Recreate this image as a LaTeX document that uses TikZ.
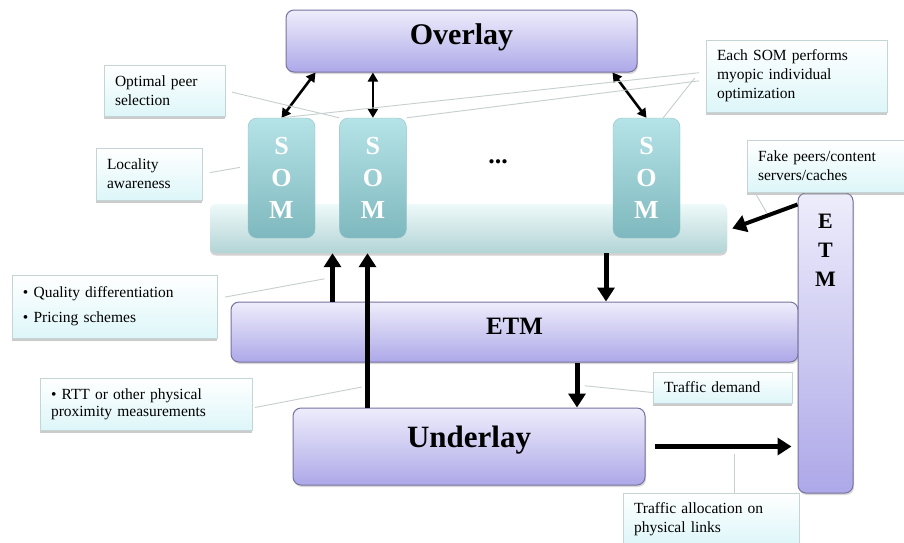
\documentclass[tikz,border=0pt]{standalone}
\usepackage{fontspec}
\setmainfont{Liberation Serif}
\usetikzlibrary{positioning,shadows,arrows.meta}
\definecolor{layertop}{HTML}{EEEDFB}
\definecolor{layerbot}{HTML}{ADA8E8}
\definecolor{layerline}{HTML}{77739F}
\definecolor{somtop}{HTML}{B5E3E7}
\definecolor{sombot}{HTML}{7EB8BE}
\definecolor{somline}{HTML}{8FC3C7}
\definecolor{plattop}{HTML}{EEF9F9}
\definecolor{platbot}{HTML}{B3D4D6}
\definecolor{tipbot}{HTML}{DDF6F9}
\definecolor{tipline}{HTML}{C5D5D6}
\definecolor{leadgray}{HTML}{C6CECE}

\begin{document}
\begin{tikzpicture}[x=1pt,y=-1pt]
\tikzset{layer/.style={draw=layerline, line width=1pt, rounded corners=8pt, top color=layertop, bottom color=layerbot,
          drop shadow={shadow xshift=1pt, shadow yshift=-2pt, fill=black!30}},
  platform/.style={rounded corners=6pt, top color=plattop, bottom color=platbot,
          drop shadow={shadow xshift=0pt, shadow yshift=-2.5pt, fill=black!35}},
  som/.style={draw=somline, rounded corners=9pt, top color=somtop, bottom color=sombot, text=white,
          font=\bfseries\fontsize{26}{32}\selectfont, align=center, minimum width=67pt, minimum height=120pt},
  tipbox/.style={draw=tipline, line width=0.4pt, top color=white, bottom color=tipbot, align=left, inner xsep=11pt,
          font=\fontsize{15.5}{19}\selectfont, drop shadow={shadow xshift=0pt, shadow yshift=-2.5pt, fill=black!40}},
  lead/.style={draw=leadgray, line width=0.9pt},
  bigarrow/.style={line width=5pt, -{Triangle[length=14pt,width=17pt]}},
  dblarrow/.style={line width=2.6pt, {Triangle[length=9pt,width=10pt]}-{Triangle[length=9pt,width=10pt]}}};
   \path[fill=white] (0,0) rectangle (904,542);
   \useasboundingbox (0,0) rectangle (904,542);

   % layers
   \node[layer, minimum width=351pt, minimum height=62pt, text depth=14pt, font=\bfseries\fontsize{30}{30}\selectfont] (overlay) at (461.5,41) {Overlay};
   \node[platform, minimum width=517pt, minimum height=49pt] (platform) at (468.5,228.5) {};
   \node[som] (som1) at (281.5,178) {S\\O\\M};
   \node[som, right=24pt of som1] (som2) {S\\O\\M};
   \node[som] (som3) at (646.5,178) {S\\O\\M};
   \node[font=\bfseries\fontsize{26}{26}\selectfont] (dots) at (498,162) {...};
   \node[layer, minimum width=567pt, minimum height=60pt, text depth=12pt, font=\bfseries\fontsize{25}{25}\selectfont] (etm) at (514.5,332) {ETM};
   \node[layer, minimum width=352pt, minimum height=77pt, text depth=20pt, font=\bfseries\fontsize{31}{31}\selectfont] (underlay) at (469,446.5) {Underlay};
   \node[layer, minimum width=55pt, minimum height=300pt,
         label={[anchor=north, yshift=-18pt, align=center, font=\bfseries\fontsize{22}{29}\selectfont]north:{E\\T\\M}}] (etmv) at (825.5,343) {};

   % notes
   \node[tipbox, text width=99pt, minimum height=51pt] (optsel) at (164.5,90.5) {Optimal peer\\selection};
   \node[tipbox, text width=84pt, minimum height=52pt] (locality) at (149,174) {Locality\\awareness};
   \node[tipbox, text width=159pt, minimum height=72pt] (eachsom) at (796.5,76) {Each SOM performs\\myopic individual\\optimization};
   \node[tipbox, text width=135pt, minimum height=52pt] (fake) at (825.5,166) {Fake peers/content\\servers/caches};
   \node[tipbox, text width=183pt, minimum height=63pt] (quality) at (114.5,306.5) {\textbullet\ Quality differentiation\\[6pt]\textbullet\ Pricing schemes};
   \node[tipbox, text width=190pt, minimum height=52pt, font=\fontsize{15.5}{17}\selectfont] (rtt) at (146,404) {\textbullet\ RTT or other physical\\proximity measurements};
   \node[tipbox, text width=117pt, minimum height=31pt] (demand) at (722.5,387.5) {Traffic demand};
   \node[tipbox, text width=154pt, minimum height=52pt] (alloc) at (711,519) {Traffic allocation on\\physical links};

   % arrows
   \draw[dblarrow] ([xshift=30pt]overlay.south west) -- (som1.north);
   \draw[dblarrow] (overlay.south -| som2.north) -- (som2.north);
   \draw[dblarrow] ([xshift=-25pt]overlay.south east) -- (som3.north);
   \draw[bigarrow] ([xshift=102pt]etm.north west) coordinate (a1s) -- coordinate[midway] (a1m) (a1s |- platform.south);
   \draw[bigarrow] ([xshift=75pt]underlay.north west) coordinate (a2s) -- coordinate[pos=0.14] (a2m) (a2s |- platform.south);
   \draw[bigarrow] ([xshift=137.5pt]platform.south) coordinate (a3s) -- (a3s |- etm.north);
   \draw[bigarrow] ([xshift=62.5pt]etm.south) coordinate (a4s) -- coordinate[midway] (a4m) (a4s |- underlay.north);
   \draw[bigarrow, shorten >=6pt] ([xshift=9pt]underlay.east) -- coordinate[pos=0.56] (a5m) (underlay.east -| etmv.west);
   \draw[bigarrow, line width=4pt] ([yshift=-12pt]etmv.north west) -- coordinate[pos=0.45] (fk) ([xshift=5pt]platform.east);

   % leader lines
   \draw[lead, shorten <=7pt] (optsel.east) -- (som2.north west);
   \draw[lead, shorten <=8pt, shorten >=8pt] (locality.east) -- ([yshift=12pt]som1.west);
   \draw[lead, shorten <=7pt] ([yshift=4pt]eachsom.west) -- (som1.north);
   \draw[lead, shorten <=7pt] ([yshift=-4pt]eachsom.west) -- (som2.north east);
   \draw[lead, shorten <=18pt] ([yshift=12pt]eachsom.west) -- ([xshift=-17pt]som3.north east);
   \draw[lead, shorten >=3pt] ([xshift=8pt]fake.south west) -- (fk);
   \draw[lead, shorten <=8pt, shorten >=8pt] ([yshift=8pt]quality.east) -- (a1m);
   \draw[lead, shorten <=3pt, shorten >=6pt] ([yshift=-4pt]rtt.east) -- (a2m);
   \draw[lead, shorten >=8pt] ([yshift=-5pt]demand.west) -- (a4m);
   \draw[lead, shorten >=7pt] (alloc.north -| a5m) -- (a5m);

\end{tikzpicture}
\end{document}
